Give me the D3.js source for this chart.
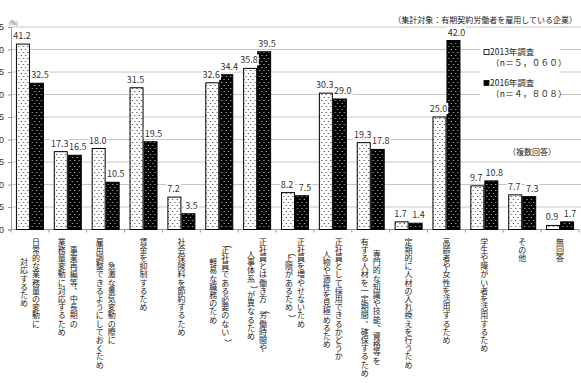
<!DOCTYPE html>
<html>
<head>
<meta charset="utf-8">
<script src="https://cdn.jsdelivr.net/npm/d3@7"></script>
<style>
  body { margin: 0; background: #fff; }
  svg { display: block; }
  text { font-family: "Noto Sans CJK JP", "Noto Sans", sans-serif; }
</style>
</head>
<body>
<div id="chart"></div>
<script>
// カテゴリ（\n は列の区切り）
var categories = [
    "日常的な業務量の変動に\n対応するため",
    "事業再編等、中長期の\n業務量変動に対応するため",
    "急激な景気変動の際に\n雇用調整できるようにしておくため",
    "賃金を抑制するため",
    "社会保険料を節約するため",
    "（正社員である必要のない）\n軽易な職務のため",
    "正社員とは働き方（労働時間や\n人事体系）が異なるため",
    "正社員を増やせないため\n（上限があるため）",
    "正社員として採用できるかどうか\n人物や適性を見極めるため",
    "専門的な知識や技能、資格等を\n有する人材を一定期間、確保するため",
    "定期的に人材の入れ換えを行うため",
    "高齢者や女性を活用するため",
    "学生や障がい者を活用するため",
    "その他",
    "無回答"
];
var seriesNames = ["2013年調査", "2016年調査"];
var seriesN = ["（n＝５，０６０）", "（n＝４，８０８）"];
var values2013 = [41.2, 17.3, 18.0, 31.5, 7.2, 32.6, 35.8, 8.2, 30.3, 19.3, 1.7, 25.0, 9.7, 7.7, 0.9];
var values2016 = [32.5, 16.5, 10.5, 19.5, 3.5, 34.4, 39.5, 7.5, 29.0, 17.8, 1.4, 42.0, 10.8, 7.3, 1.7];
var yTicks = [0, 5, 10, 15, 20, 25, 30, 35, 40, 45];
var noteTarget = "（集計対象：有期契約労働者を雇用している企業）";
var noteMulti = "（複数回答）";

var width = 581, height = 383;
var plotLeft = 11, plotRight = 579, plotTop = 27, plotBottom = 229.5;

var svg = d3.select("#chart").append("svg")
    .attr("width", width)
    .attr("height", height)
    .attr("viewBox", [0, 0, width, height]);

// 模様
var defs = svg.append("defs");
function dots(id, bg, fg) {
    var p = defs.append("pattern")
        .attr("id", id)
        .attr("patternUnits", "userSpaceOnUse")
        .attr("width", 4.5).attr("height", 6);
    p.append("rect").attr("width", 4.5).attr("height", 6).attr("fill", bg);
    p.append("circle").attr("cx", 1.2).attr("cy", 1.5).attr("r", 0.55).attr("fill", fg);
    p.append("circle").attr("cx", 3.4).attr("cy", 4.5).attr("r", 0.55).attr("fill", fg);
}
dots("p2013", "#fff", "#000");
dots("p2016", "#000", "#fff");

var x0 = d3.scaleBand().domain(d3.range(categories.length)).range([plotLeft, plotRight]);
var groupW = 28;
var off = (x0.bandwidth() - groupW) / 2;
var x1 = d3.scaleBand().domain(seriesNames).range([off, off + groupW]);
var y = d3.scaleLinear().domain([0, 45]).range([plotBottom, plotTop]);

// グリッド
svg.append("g")
    .selectAll("line")
    .data(yTicks.filter(d => d > 0))
    .enter()
    .append("line")
    .attr("x1", plotLeft).attr("x2", width)
    .attr("y1", d => y(d)).attr("y2", d => y(d))
    .attr("stroke", "#c6c6c6")
    .attr("stroke-width", 1);

// Y軸
var yAxis = svg.append("g")
    .attr("transform", "translate(" + plotLeft + ",0)")
    .call(d3.axisLeft(y).tickValues(yTicks).tickSize(3).tickPadding(4));
yAxis.select(".domain").attr("stroke", "#999");
yAxis.selectAll(".tick line").attr("stroke", "#999");
yAxis.selectAll("text").attr("font-size", 9).attr("fill", "#333")
    .style("font-family", "'Liberation Sans', sans-serif");

svg.append("text")
    .attr("x", 9).attr("y", 25)
    .attr("font-size", 5.5).attr("fill", "#333")
    .text("(%)");

// X軸
svg.append("line")
    .attr("x1", plotLeft).attr("x2", plotRight)
    .attr("y1", plotBottom).attr("y2", plotBottom)
    .attr("stroke", "#999");
svg.append("g")
    .selectAll("line")
    .data(d3.range(categories.length + 1))
    .enter()
    .append("line")
    .attr("x1", d => plotLeft + d * x0.step()).attr("x2", d => plotLeft + d * x0.step())
    .attr("y1", plotBottom).attr("y2", plotBottom + 3)
    .attr("stroke", "#999");

// 棒
var rows = categories.map((c, i) => ({ i: i, vals: [values2013[i], values2016[i]] }));
var groups = svg.selectAll("g.cat")
    .data(rows)
    .enter()
    .append("g")
    .attr("class", "cat")
    .attr("transform", d => "translate(" + x0(d.i) + ",0)");

groups.selectAll("rect")
    .data(d => d.vals.map((v, k) => ({ k: k, v: v })))
    .enter()
    .append("rect")
    .attr("x", d => x1(seriesNames[d.k]) + 0.5)
    .attr("y", d => y(d.v))
    .attr("width", x1.bandwidth() - 1)
    .attr("height", d => plotBottom - y(d.v))
    .attr("fill", d => d.k === 0 ? "url(#p2013)" : "url(#p2016)")
    .attr("stroke", "#000")
    .attr("stroke-width", 1);

// 数値ラベル
var labels = groups.selectAll("g.lab")
    .data(d => d.vals.map((v, k) => ({ k: k, v: v })))
    .enter()
    .append("g")
    .attr("class", "lab");
labels.append("text")
    .attr("x", d => x1(seriesNames[d.k]) + x1.bandwidth() / 2 + (d.k === 0 ? -1 : 3))
    .attr("y", d => y(d.v) - 5)
    .attr("text-anchor", "middle")
    .attr("font-size", 9)
    .attr("fill", "#333")
    .text(d => d.v.toFixed(1));
labels.each(function () {
    var g = d3.select(this);
    var b = g.select("text").node().getBBox();
    g.insert("rect", "text")
        .attr("x", b.x - 1).attr("y", b.y + 1)
        .attr("width", b.width + 2).attr("height", b.height - 2)
        .attr("fill", "#fff");
});

// カテゴリラベル（縦書き：列ごとに1つの text、文字ごとに位置指定）
var fs = 8;
var charH = 8.2;
var labTop = 237;
var rotChars = "（）()ー";
var commaChars = "、，。";
groups.each(function (d) {
    var g = d3.select(this);
    var cols = categories[d.i].split("\n");
    var maxLen = d3.max(cols, c => c.length);
    var cx = x0.bandwidth() / 2;
    var gap = 12;
    cols.forEach(function (c, j) {
        var xx = cx + ((cols.length - 1) / 2 - j) * gap;
        var y0 = labTop + (maxLen - c.length) * charH / 2;
        var chars = Array.from(c);
        var xs = [], ys = [], rs = [];
        chars.forEach(function (ch, n) {
            var yy = y0 + n * charH + charH / 2;
            if (rotChars.indexOf(ch) >= 0) {
                xs.push(xx + fs / 2); ys.push(yy - fs / 2); rs.push(90);
            } else if (commaChars.indexOf(ch) >= 0) {
                xs.push(xx + 4.5); ys.push(yy - 4.5); rs.push(0);
            } else {
                xs.push(xx); ys.push(yy); rs.push(0);
            }
        });
        g.append("text")
            .attr("x", xs.join(" "))
            .attr("y", ys.join(" "))
            .attr("rotate", rs.join(" "))
            .attr("text-anchor", "middle")
            .attr("dominant-baseline", "central")
            .attr("font-size", fs)
            .attr("fill", "#222")
            .text(c);
    });
});

// 注記
svg.append("text")
    .attr("x", 577).attr("y", 23)
    .attr("text-anchor", "end")
    .attr("font-size", 8)
    .attr("fill", "#222")
    .text(noteTarget);

// 凡例
var lg = svg.append("g").attr("transform", "translate(480,44)");
lg.append("rect").attr("x", 0).attr("y", 0).attr("width", 80).attr("height", 55).attr("fill", "#fff");
seriesNames.forEach(function (s, k) {
    var yy = 11 + k * 31;
    lg.append("rect")
        .attr("x", 4).attr("y", yy - 5.5)
        .attr("width", 5).attr("height", 5)
        .attr("fill", k === 0 ? "#fff" : "#000")
        .attr("stroke", "#000").attr("stroke-width", 0.8);
    lg.append("text")
        .attr("x", 10).attr("y", yy)
        .attr("font-size", 8.5).attr("fill", "#222")
        .text(s);
    lg.append("text")
        .attr("x", 11).attr("y", yy + 11)
        .attr("font-size", 8.5).attr("fill", "#222")
        .attr("letter-spacing", 0.3)
        .text(seriesN[k]);
});

var nb = svg.append("g");
nb.append("rect").attr("x", 505).attr("y", 146).attr("width", 52).attr("height", 12).attr("fill", "#fff");
nb.append("text")
    .attr("x", 508).attr("y", 155)
    .attr("font-size", 8)
    .attr("fill", "#222")
    .text(noteMulti);
</script>
</body>
</html>
